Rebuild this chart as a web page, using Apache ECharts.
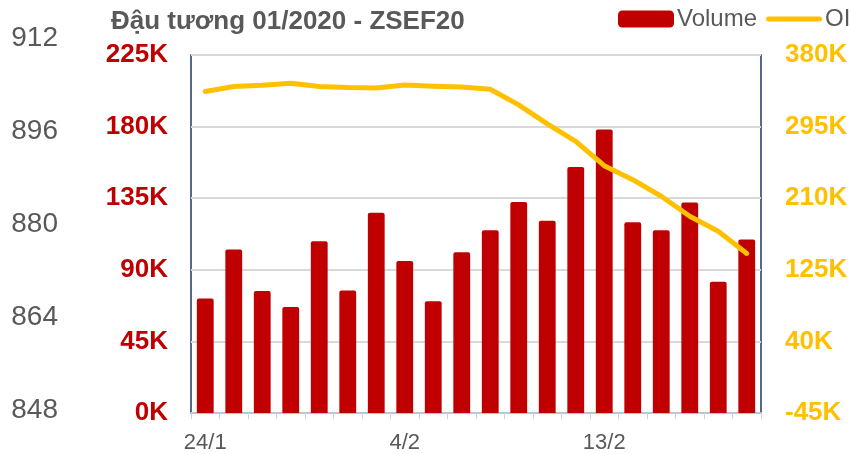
<!DOCTYPE html>
<html>
<head>
<meta charset="utf-8">
<script src="https://cdn.jsdelivr.net/npm/echarts@6/dist/echarts.min.js"></script>
<style>
  html, body { margin: 0; padding: 0; background: #fff; }
  #chart { width: 851px; height: 454px; }
</style>
</head>
<body>
<div id="chart"></div>
<script>
// Trading days
const dates = ["24/1", "27/1", "28/1", "29/1", "30/1", "31/1", "3/2", "4/2", "5/2", "6/2",
  "7/2", "10/2", "11/2", "12/2", "13/2", "14/2", "18/2", "19/2", "20/2", "21/2"];

// Volume (contracts)
const volume = [72000, 102800, 76600, 66600, 108000, 77000, 125800, 95500, 70300, 101000,
  114900, 132600, 120800, 154600, 178200, 119900, 114900, 132300, 82500, 109000];

// Open interest (contracts)
const openInterest = [336600, 342600, 344100, 346500, 342600, 341300, 340900, 344500, 343000, 342100,
  339400, 320800, 298300, 277400, 248600, 232000, 212300, 188600, 170800, 144400];

// Price axis on the far left (no series drawn on it)
const priceMin = 848;
const priceMax = 912;
const priceStep = 16;

const volMin = 0, volMax = 225000, volStep = 45000;
const oiMin = -45000, oiMax = 380000, oiStep = 85000;

document.addEventListener("DOMContentLoaded", function () {
  let chartDom = document.getElementById("chart");
  let myChart = echarts.init(chartDom);

  const font = "Liberation Sans, Arial, sans-serif";
  const kFormat = function (v) {
    return Math.round(v / 1000) + "K";
  };
  const legendText = { fontFamily: font, fontSize: 24, color: "#595959", padding: [0, 0, 0, -2] };

  let option = {
    backgroundColor: "#fff",
    animation: false,
    textStyle: { fontFamily: font },
    title: {
      text: "Đậu tương 01/2020 - ZSEF20",
      left: 111,
      top: 9,
      padding: 0,
      textStyle: {
        fontFamily: font,
        fontSize: 26,
        fontWeight: "bold",
        color: "#595959",
      },
    },
    // two legends so the row does not wrap at the right edge
    legend: [
      {
        left: 618,
        top: 7,
        padding: 0,
        itemWidth: 56,
        itemHeight: 17,
        textStyle: legendText,
        data: [{ name: "Volume", icon: "roundRect" }],
      },
      {
        left: 766,
        top: 7,
        padding: 0,
        width: 200,
        itemWidth: 56,
        itemHeight: 17,
        textStyle: legendText,
        data: [
          { name: "OI", icon: "path://M2.5,0 L53.5,0 A2.5,2.5 0 0 1 53.5,5 L2.5,5 A2.5,2.5 0 0 1 2.5,0 Z" },
        ],
      },
    ],
    grid: [
      {
        left: 191,
        right: 90,
        top: 55,
        bottom: 40,
        show: true,
        borderColor: "#1F3864",
        borderWidth: 1.5,
      },
      {
        left: 58,
        width: 10,
        top: 38,
        bottom: 44,
      },
    ],
    xAxis: [
      {
        type: "category",
        data: dates,
        gridIndex: 0,
        axisLine: { lineStyle: { color: "#BCC5D6", width: 2 } },
        axisTick: { show: true, interval: 0, length: 6, lineStyle: { color: "#CDD1D8", width: 1 } },
        axisLabel: {
          interval: 6,
          margin: 19,
          fontSize: 22,
          color: "#595959",
          fontFamily: font,
        },
      },
      {
        type: "value",
        gridIndex: 1,
        show: false,
      },
    ],
    yAxis: [
      {
        type: "value",
        gridIndex: 0,
        position: "left",
        min: volMin,
        max: volMax,
        interval: volStep,
        axisLine: { show: false },
        axisTick: { show: false },
        splitLine: { lineStyle: { color: "#D9D9D9", width: 2 } },
        axisLabel: {
          margin: 23,
          fontSize: 26,
          fontWeight: "bold",
          color: "#C00000",
          fontFamily: font,
          formatter: kFormat,
        },
      },
      {
        type: "value",
        gridIndex: 0,
        position: "right",
        min: oiMin,
        max: oiMax,
        interval: oiStep,
        axisLine: { show: false },
        axisTick: { show: false },
        splitLine: { show: false },
        axisLabel: {
          margin: 24,
          fontSize: 26,
          fontWeight: "bold",
          color: "#FFC000",
          fontFamily: font,
          formatter: kFormat,
        },
      },
      {
        type: "value",
        gridIndex: 1,
        position: "left",
        min: priceMin,
        max: priceMax,
        interval: priceStep,
        axisLine: { show: false },
        axisTick: { show: false },
        splitLine: { show: false },
        axisLabel: {
          margin: 0,
          fontSize: 28,
          color: "#595959",
          fontFamily: font,
        },
      },
    ],
    series: [
      {
        name: "Volume",
        type: "bar",
        xAxisIndex: 0,
        yAxisIndex: 0,
        data: volume,
        barWidth: "59%",
        itemStyle: {
          color: "#C00000",
          borderRadius: [2, 2, 0, 0],
        },
      },
      {
        name: "OI",
        type: "line",
        xAxisIndex: 0,
        yAxisIndex: 1,
        data: openInterest,
        symbol: "none",
        itemStyle: { color: "#FFC000" },
        lineStyle: { color: "#FFC000", width: 5, cap: "round", join: "round" },
      },
    ],
  };

  myChart.setOption(option);

  window.addEventListener("resize", function () {
    myChart.resize();
  });
});
</script>
</body>
</html>
